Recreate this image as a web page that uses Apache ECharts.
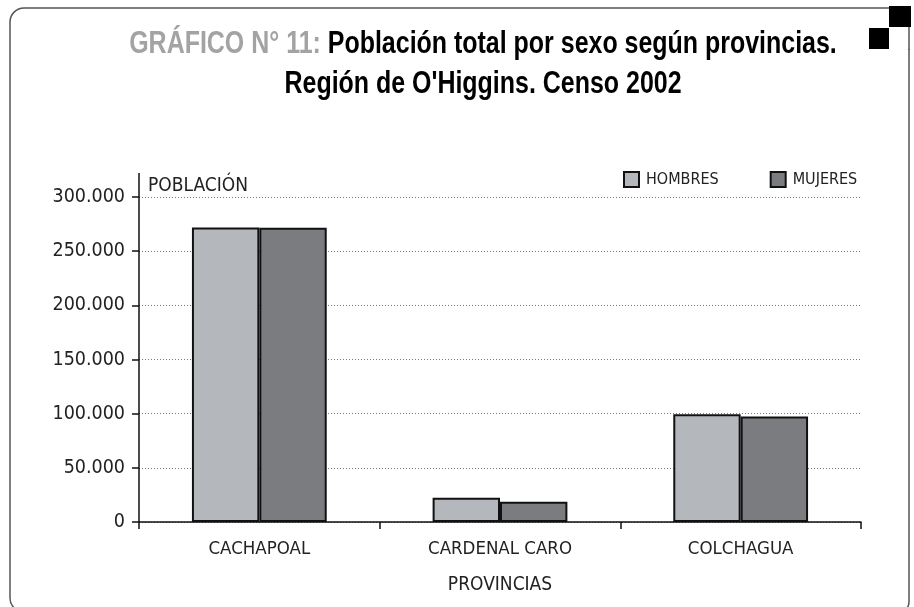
<!DOCTYPE html>
<html>
<head>
<meta charset="utf-8">
<script src="https://cdn.jsdelivr.net/npm/echarts@6/dist/echarts.min.js"></script>
<style>
html,body{margin:0;padding:0;background:#fff;}
#c{width:914px;height:607px;}
</style>
</head>
<body>
<div id="c"></div>
<script>
const categories = ['CACHAPOAL', 'CARDENAL CARO', 'COLCHAGUA'];
const hombres = [271800, 22400, 99400];
const mujeres = [271600, 18600, 97300];
const seriesNames = ['HOMBRES', 'MUJERES'];
const yTicks = {min: 0, max: 300000, interval: 50000};

const FONT = "'DejaVu Sans Condensed', 'Liberation Sans', Arial, sans-serif";
const TFONT = "'Liberation Sans', Arial, sans-serif";
const chart = echarts.init(document.getElementById('c'), null, {renderer: 'canvas'});

function fmt(v) {
  return String(v).replace(/\B(?=(\d{3})+(?!\d))/g, '.');
}

chart.setOption({
  backgroundColor: '#fff',
  animation: false,
  legend: {
    left: 623,
    top: 171,
    padding: 0,
    icon: 'rect',
    itemWidth: 15,
    itemHeight: 15,
    itemGap: 51,
    textStyle: {fontFamily: FONT, fontSize: 16, color: '#222', padding: [0, 0, 0, 2]},
    data: seriesNames
  },
  grid: {left: 139, right: 53, top: 197, bottom: 85, containLabel: false},
  xAxis: {
    type: 'category',
    data: categories,
    axisLine: {lineStyle: {color: '#111', width: 1.5}},
    axisTick: {show: true, length: 7, lineStyle: {color: '#111', width: 1.5}},
    axisLabel: {fontFamily: FONT, fontSize: 18.5, color: '#222', margin: 18},
    name: 'PROVINCIAS',
    nameLocation: 'middle',
    nameGap: 54,
    nameTextStyle: {fontFamily: FONT, fontSize: 19, color: '#222'}
  },
  yAxis: {
    type: 'value',
    min: yTicks.min,
    max: yTicks.max,
    interval: yTicks.interval,
    name: 'POBLACIÓN',
    nameLocation: 'end',
    nameGap: 1,
    nameTextStyle: {fontFamily: FONT, fontSize: 19, color: '#222', align: 'left', padding: [0, 0, 0, 9]},
    axisLine: {show: true, lineStyle: {color: '#111', width: 1.5}},
    axisTick: {show: true, length: 7, lineStyle: {color: '#111', width: 1.5}},
    axisLabel: {fontFamily: FONT, fontSize: 19.5, color: '#222', margin: 14, formatter: fmt},
    splitLine: {show: true, lineStyle: {color: '#777', type: [1, 2], width: 1}}
  },
  series: [
    {
      name: seriesNames[0], type: 'bar', data: hombres,
      barGap: '0%', barCategoryGap: '44%',
      itemStyle: {color: '#b4b7bb', borderColor: '#111', borderWidth: 2}
    },
    {
      name: seriesNames[1], type: 'bar', data: mujeres,
      barGap: '0%', barCategoryGap: '44%',
      itemStyle: {color: '#7b7c80', borderColor: '#111', borderWidth: 2}
    }
  ],
  graphic: [
    {type: 'rect', shape: {x: 10, y: 8, width: 899, height: 604, r: [14, 0, 10, 14]},
     style: {fill: 'none', stroke: '#555', lineWidth: 1.5}, z: 1},
    {type: 'rect', shape: {x: 889, y: 6, width: 22, height: 21}, style: {fill: '#000'}, z: 2},
    {type: 'rect', shape: {x: 869, y: 28, width: 20, height: 21}, style: {fill: '#000'}, z: 2},
    {type: 'rect', shape: {x: 889, y: 27, width: 25, height: 22}, style: {fill: '#fff'}, z: 1.5},
    {type: 'line', shape: {x1: 909, y1: 27, x2: 909, y2: 50}, style: {stroke: '#555', lineWidth: 1.5}, z: 3},
    {type: 'line', shape: {x1: 139, y1: 173, x2: 139, y2: 197}, style: {stroke: '#111', lineWidth: 1.5}, z: 3},
    {type: 'text', x: 483, y: 24, scaleX: 0.78, scaleY: 1, originX: 0, originY: 0, z: 5,
     style: {
       text: '{g|GRÁFICO N° 11: }{b|Población total por sexo según provincias.}\n{b|Región de O\'Higgins. Censo 2002}',
       align: 'center', verticalAlign: 'top',
       rich: {
         g: {fontFamily: TFONT, fontWeight: 'bold', fontSize: 32, fill: '#a3a3a3', lineHeight: 40, align: 'center'},
         b: {fontFamily: TFONT, fontWeight: 'bold', fontSize: 32, fill: '#000', lineHeight: 40, align: 'center'}
       }
     }}
  ]
});
</script>
</body>
</html>
